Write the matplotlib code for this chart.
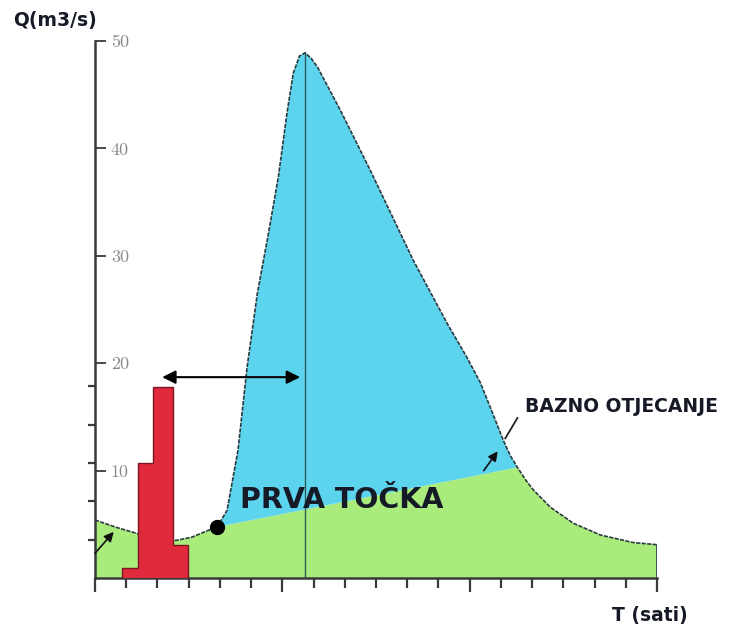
import numpy as np
import matplotlib
matplotlib.use("Agg")
import matplotlib.pyplot as plt
from matplotlib.ticker import FixedLocator, NullFormatter

# hydrograph (T in hours, Q in m3/s)
t_total = [0, 0.7, 1.4, 2.0, 2.6, 3.1, 3.6, 3.91, 4.23, 4.58, 4.87, 5.2, 5.55,
           5.87, 6.15, 6.35, 6.55, 6.73, 6.92, 7.12, 7.85, 8.81, 10.19, 11.28,
           11.9, 12.34, 12.7, 13.08, 13.3, 13.53, 13.8, 14.04, 14.58, 15.32,
           16.19, 17.24, 18.0]
q_total = [5.4, 4.7, 4.1, 3.7, 3.5, 3.8, 4.4, 4.75, 6.3, 11.9, 19.6, 26.5, 32.0,
           37.3, 43.3, 47.0, 48.6, 48.9, 48.4, 47.6, 43.6, 38.0, 29.6, 23.7,
           20.6, 18.2, 15.6, 12.8, 11.4, 10.3, 9.1, 8.2, 6.6, 5.1,
           4.0, 3.3, 3.1]

# baseflow separation: first point -> end of direct runoff
t_base = [3.91, 13.53]
q_base = [4.75, 10.3]

# rainfall hyetograph
rain_edges = [0.85, 1.38, 1.86, 2.5, 2.98]
rain_heights = [0.9, 10.7, 17.8, 3.1]
rain_ticks = [3.57, 7.14, 10.71, 14.29, 17.86]

# lag time arrow
lag_start, lag_end, lag_level = 2.15, 6.57, 18.7

y_ticks = [10, 20, 30, 40, 50]
y_labels = ["10", "20", "30", "40", "50"]

GREEN = "#a9ec7c"
BLUE = "#5dd4ee"
RED = "#e02a3c"
TXT = "#161a26"

fig = plt.figure(figsize=(7.32, 6.26), dpi=100)
ax = fig.add_axes([95 / 732, 48 / 626, 562 / 732, 537 / 626])
ax.set_xlim(0, 18)
ax.set_ylim(0, 50)

i_dot = t_total.index(t_base[0])
i_meet = t_total.index(t_base[1])

# baseflow (green) area
gx = t_total[:i_dot + 1] + t_total[i_meet:] + [t_total[-1], 0]
gy = q_total[:i_dot + 1] + q_total[i_meet:] + [0, 0]
ax.fill(gx, gy, color=GREEN, lw=0, zorder=1)
# direct runoff (blue) area
ax.fill(t_total[i_dot:i_meet + 1], q_total[i_dot:i_meet + 1], color=BLUE, lw=0, zorder=1)

ax.plot(t_total, q_total, color="#2b3a3e", lw=1.2, ls=(0, (2.5, 0.8)), zorder=3)
ax.plot([t_total[-1], t_total[-1]], [0, q_total[-1]], color="#2b3a3e", lw=1.2, zorder=3)

# vertical line through the peak
i_peak = int(np.argmax(q_total))
ax.plot([t_total[i_peak]] * 2, [0, q_total[i_peak]], color="#2f5d55", lw=1.0, zorder=2)

# rainfall bars
ax.stairs(rain_heights, rain_edges, fill=True, facecolor=RED, edgecolor="#7a1526",
          lw=1.0, zorder=4)

# first point
ax.plot(t_base[0], q_base[0], "o", color="black", ms=10, zorder=5)

# lag arrow
ax.annotate("", xy=(lag_end, lag_level), xytext=(lag_start, lag_level),
            arrowprops=dict(arrowstyle="<|-|>", color="black", lw=1.5,
                            mutation_scale=20, shrinkA=0, shrinkB=0), zorder=5)

# small pointer arrows
ax.annotate("", xy=(0.6, 4.3), xytext=(0.0, 2.3),
            arrowprops=dict(arrowstyle="-|>", color="#111", lw=1.2,
                            mutation_scale=14, shrinkA=0, shrinkB=0),
            annotation_clip=False, zorder=5)
ax.annotate("", xy=(12.9, 11.8), xytext=(12.45, 10.0),
            arrowprops=dict(arrowstyle="-|>", color="#111", lw=1.2,
                            mutation_scale=14, shrinkA=0, shrinkB=0), zorder=5)
ax.plot([13.53, 13.14], [14.9, 13.0], color="#222", lw=1.3, zorder=5)

ax.text(4.65, 6.5, "PRVA TOČKA", fontsize=20.5, fontweight="bold",
        color=TXT, ha="left", va="baseline", zorder=6)
ax.text(13.78, 15.45, "BAZNO OTJECANJE", fontsize=13.5, fontweight="bold",
        color=TXT, ha="left", va="baseline", clip_on=False, zorder=6)

fig.text(13 / 732, 1 - 26 / 626, "Q(m3/s)", fontsize=13.5, fontweight="bold",
         color=TXT, ha="left", va="baseline")
fig.text(612 / 732, 1 - 621 / 626, "T (sati)", fontsize=13.5, fontweight="bold",
         color=TXT, ha="left", va="baseline")

# axes styling
for s in ("top", "right"):
    ax.spines[s].set_visible(False)
for s in ("left", "bottom"):
    ax.spines[s].set_color("#3a3a3a")
    ax.spines[s].set_linewidth(1.8)

ax.xaxis.set_major_locator(FixedLocator([0, 6, 12, 18]))
ax.xaxis.set_minor_locator(FixedLocator(list(range(0, 19))))
ax.xaxis.set_major_formatter(NullFormatter())
ax.tick_params(axis="x", which="major", direction="out", length=10, width=1.6,
               color="#3a3a3a")
ax.tick_params(axis="x", which="minor", direction="out", length=7, width=1.6,
               color="#3a3a3a")

ax.set_yticks(y_ticks)
ax.set_yticklabels(y_labels)
ax.yaxis.set_minor_locator(FixedLocator(rain_ticks))
ax.tick_params(axis="y", which="major", direction="in", length=8, width=1.3,
               color="#3a3a3a", pad=-11.5, labelsize=13, labelcolor="#8a8a8a")
ax.tick_params(axis="y", which="minor", direction="out", length=5, width=1.6,
               color="#3a3a3a")
for lbl in ax.get_yticklabels():
    lbl.set_fontfamily("cmr10")
    lbl.set_horizontalalignment("left")

fig.savefig("out.png", dpi=100, facecolor="white")
